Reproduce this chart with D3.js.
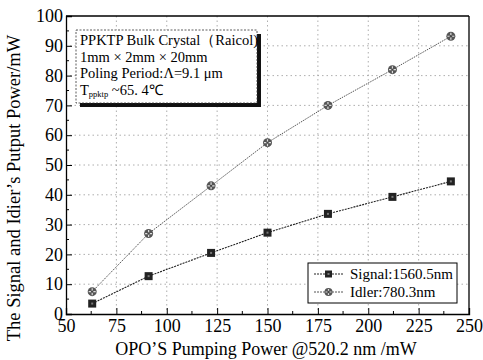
<!DOCTYPE html>
<html>
<head>
<meta charset="utf-8">
<script src="https://d3js.org/d3.v7.min.js"></script>
<style>
  body { margin: 0; background: #fff; }
  svg text, svg tspan { font-family: "Liberation Serif", serif; fill: #000; }
</style>
</head>
<body>
<svg width="483" height="360" id="mainsvg"></svg>
<script>
  // data
  const pumpPower = [63, 91, 122, 150, 180, 212, 241];
  const signalPower = [3.5, 12.7, 20.5, 27.3, 33.6, 39.3, 44.5];
  const idlerPower = [7.5, 27, 43, 57.5, 70, 82, 93.2];
  const xTicks = [50, 75, 100, 125, 150, 175, 200, 225, 250];
  const yTicks = [0, 10, 20, 30, 40, 50, 60, 70, 80, 90, 100];
  const legendLabels = ['Signal:1560.5nm', 'Idler:780.3nm'];
  const noteLines = ['PPKTP Bulk Crystal\uFF08Raicol)', '1mm \u00D7 2mm \u00D7 20mm', 'Poling Period:\u039B=9.1 \u03BCm'];

  const serif = '"Liberation Serif", serif';
  const svg = d3.select('#mainsvg');
  const margin = { top: 16, right: 14, bottom: 46, left: 66 };
  const innerWidth = 483 - margin.left - margin.right;
  const innerHeight = 360 - margin.top - margin.bottom;

  const xScale = d3.scaleLinear().domain([50, 250]).range([0, innerWidth]);
  const yScale = d3.scaleLinear().domain([0, 100]).range([innerHeight, 0]);

  const g = svg.append('g')
    .attr('transform', `translate(${margin.left}, ${margin.top})`);

  // dotted grid
  g.append('g').selectAll('line')
    .data(yTicks.filter(d => d > 0 && d < 100))
    .join('line')
    .attr('x1', 4).attr('x2', innerWidth)
    .attr('y1', d => yScale(d)).attr('y2', d => yScale(d))
    .attr('stroke', '#999').attr('stroke-width', 0.8)
    .attr('stroke-dasharray', '1.5,3');
  g.append('g').selectAll('line')
    .data(xTicks.filter(d => d > 50 && d < 250))
    .join('line')
    .attr('x1', d => xScale(d)).attr('x2', d => xScale(d))
    .attr('y1', 0).attr('y2', innerHeight - 4)
    .attr('stroke', '#999').attr('stroke-width', 0.8)
    .attr('stroke-dasharray', '1.5,3');

  // axes, ticks pointing inward
  const minorX = d3.range(50, 251, 12.5).filter(d => !xTicks.includes(d));
  const minorY = d3.range(5, 100, 10);

  const xAxis = g.append('g').attr('transform', `translate(0, ${innerHeight})`)
    .call(d3.axisBottom(xScale).tickValues(xTicks).tickSize(-6).tickPadding(5).tickFormat(d3.format('d')));
  xAxis.append('g').selectAll('line').data(minorX).join('line')
    .attr('x1', d => xScale(d)).attr('x2', d => xScale(d))
    .attr('y1', 0).attr('y2', -3).attr('stroke', '#000');

  const yAxis = g.append('g')
    .call(d3.axisLeft(yScale).tickValues(yTicks).tickSize(-6).tickPadding(3).tickFormat(d3.format('d')));
  yAxis.append('g').selectAll('line').data(minorY).join('line')
    .attr('y1', d => yScale(d)).attr('y2', d => yScale(d))
    .attr('x1', 0).attr('x2', 3).attr('stroke', '#000');

  xAxis.attr('font-family', serif).attr('font-size', 18);
  yAxis.attr('font-family', serif).attr('font-size', 18);
  svg.selectAll('.tick text')
    .style('font-family', serif)
    .style('font-size', '18px')
    .attr('fill', '#000');
  svg.selectAll('.domain').attr('stroke-width', 1.3);

  // top and right frame
  g.append('line').attr('x1', 0).attr('x2', innerWidth).attr('y1', 0).attr('y2', 0)
    .attr('stroke', '#000').attr('stroke-width', 1.3);
  g.append('line').attr('x1', innerWidth).attr('x2', innerWidth).attr('y1', 0).attr('y2', innerHeight)
    .attr('stroke', '#000').attr('stroke-width', 1.3);

  // axis titles
  svg.append('text')
    .attr('x', 266).attr('y', 355)
    .attr('text-anchor', 'middle')
    .style('font-family', serif).style('font-size', '18px')
    .text('OPO\u2019S Pumping Power @520.2 nm /mW');
  svg.append('text')
    .attr('transform', 'translate(20, 188) rotate(-90)')
    .attr('text-anchor', 'middle')
    .style('font-family', serif).style('font-size', '18.5px')
    .text('The Signal and Idier\u2019s Putput Power/mW');

  // lines
  const signalData = pumpPower.map((p, i) => [p, signalPower[i]]);
  const idlerData = pumpPower.map((p, i) => [p, idlerPower[i]]);
  const line = d3.line().x(d => xScale(d[0])).y(d => yScale(d[1]));

  g.append('path').datum(idlerData).attr('d', line)
    .attr('fill', 'none').attr('stroke', '#555').attr('stroke-width', 1)
    .attr('stroke-dasharray', '1.5,1');
  g.append('path').datum(signalData).attr('d', line)
    .attr('fill', 'none').attr('stroke', '#222').attr('stroke-width', 1.1)
    .attr('stroke-dasharray', '2,1');

  const drawSquare = (sel, size) => {
    sel.append('rect')
      .attr('x', -size / 2).attr('y', -size / 2).attr('width', size).attr('height', size)
      .attr('fill', '#222');
    sel.append('rect')
      .attr('x', -1).attr('y', -1).attr('width', 2).attr('height', 2)
      .attr('fill', '#777');
  };
  const drawFlower = (sel, r) => {
    sel.append('circle').attr('r', r).attr('fill', '#555');
    sel.append('path')
      .attr('d', `M${-r + 1},0H${r - 1}M0,${-r + 1}V${r - 1}`)
      .attr('stroke', '#ddd').attr('stroke-width', 1.2);
    sel.append('circle').attr('r', 1.2).attr('fill', '#444');
  };

  g.selectAll('.signal-pt').data(signalData).join('g')
    .attr('class', 'signal-pt')
    .attr('transform', d => `translate(${xScale(d[0])}, ${yScale(d[1])})`)
    .call(drawSquare, 8);
  g.selectAll('.idler-pt').data(idlerData).join('g')
    .attr('class', 'idler-pt')
    .attr('transform', d => `translate(${xScale(d[0])}, ${yScale(d[1])})`)
    .call(drawFlower, 4.5);

  // annotation box with shadow
  const note = svg.append('g').attr('transform', 'translate(76, 30)');
  note.append('rect').attr('x', 4).attr('y', 4).attr('width', 181).attr('height', 73).attr('fill', '#111');
  note.append('rect').attr('x', 0).attr('y', 0).attr('width', 181).attr('height', 73)
    .attr('fill', '#fff').attr('stroke', '#333').attr('stroke-width', 0.8)
    .attr('stroke-dasharray', '2,1.5');
  note.selectAll('.note-line').data(noteLines).join('text')
    .attr('class', 'note-line')
    .attr('x', 4).attr('y', (d, i) => 15 + i * 16.5)
    .style('font-family', serif).style('font-size', '14.5px')
    .text(d => d);
  const tLine = note.append('text').attr('x', 4).attr('y', 64.5)
    .style('font-family', serif).style('font-size', '14.5px');
  tLine.append('tspan').text('T');
  tLine.append('tspan').style('font-size', '8.5px').attr('fill', '#000').attr('dy', 2).text('ppktp');
  tLine.append('tspan').attr('dy', -2).attr('fill', '#000').text(' ~65. 4\u2103');

  // legend
  const legend = svg.append('g').attr('transform', 'translate(308, 263)');
  legend.append('rect').attr('width', 149).attr('height', 40)
    .attr('fill', '#fff').attr('stroke', '#000').attr('stroke-width', 1);
  const legendRows = legend.selectAll('.legend-row').data(legendLabels).join('g')
    .attr('class', 'legend-row')
    .attr('transform', (d, i) => `translate(0, ${11 + i * 18})`);
  legendRows.append('line').attr('x1', 6).attr('x2', 35)
    .attr('stroke', (d, i) => i === 0 ? '#222' : '#555')
    .attr('stroke-dasharray', '2,1');
  legendRows.each(function (d, i) {
    const m = d3.select(this).append('g').attr('transform', 'translate(20.5, 0)');
    if (i === 0) drawSquare(m, 7); else drawFlower(m, 4);
  });
  legendRows.append('text').attr('x', 42).attr('y', 5)
    .style('font-family', serif).style('font-size', '15px')
    .text(d => d);
</script>
</body>
</html>
